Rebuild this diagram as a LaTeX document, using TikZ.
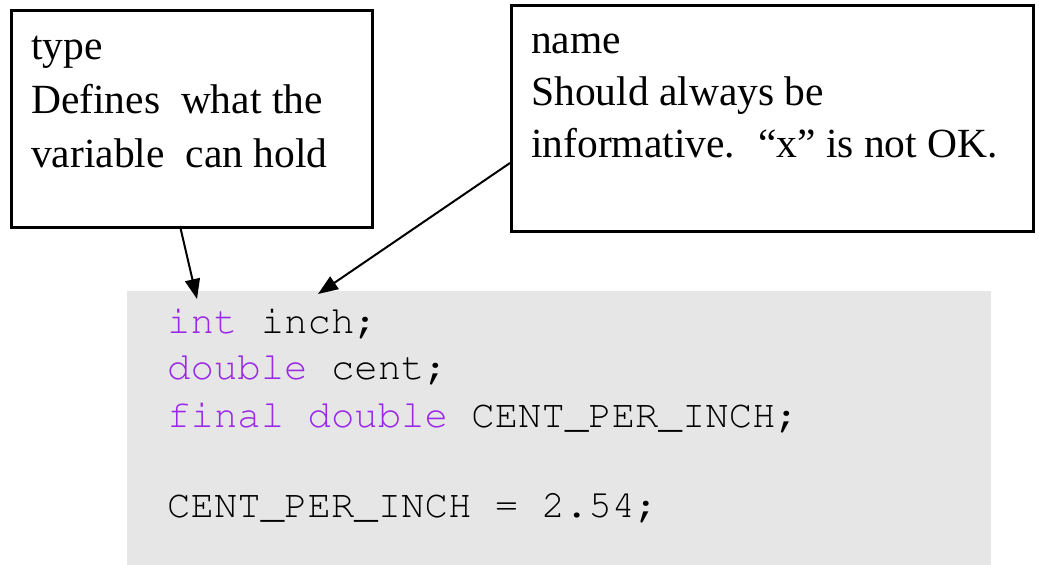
\documentclass[tikz,border=0pt]{standalone}
\usepackage{fontspec}
\setmainfont{Liberation Serif}
\usetikzlibrary{arrows.meta}
\definecolor{kw}{RGB}{155,40,230}
\definecolor{codebg}{RGB}{230,230,230}
\newcommand{\courierfont}{\fontencoding{T1}\fontfamily{pcr}\selectfont}
\begin{document}
\begin{tikzpicture}[x=1pt,y=-1pt,
  notebox/.style={draw=black,line width=2.8pt,anchor=north west,inner sep=0pt},
  serif/.style={anchor=base west,inner sep=0pt,font=\fontsize{41.5}{54}\selectfont},
  code/.style={anchor=base west,inner sep=0pt,font=\courierfont\fontsize{39}{47}\selectfont},
  pointer/.style={line width=2pt,-{Triangle[length=20pt,width=15pt]}}]
\useasboundingbox (0,0) rectangle (1039,565);
% code background
\node[fill=codebg,anchor=north west,inner sep=0pt,minimum width=864pt,minimum height=274pt] (bg) at (127,291) {};
% note boxes
\node[notebox,minimum width=361pt,minimum height=217pt] (box1) at (10,9) {};
\node[notebox,minimum width=522pt,minimum height=226pt] (box2) at (510,4) {};
% note texts
\node[serif] (t1a) at (31,59) {type};
\node[serif] (t1b) at (31,113) {Defines\ \ what the};
\node[serif] (t1c) at (31,167) {variable\ \ can hold};
\node[serif] (t2a) at (531,53) {name};
\node[serif] (t2b) at (531,105) {Should always be};
\node[serif] (t2c) at (531,157) {informative.\hspace{0.55em}“x” is not OK.};
% code
\node[code] (c1) at (167,333) {\textcolor{kw}{int} inch;};
\node[code] (c2) at (167,379) {\textcolor{kw}{double} cent;};
\node[code] (c3) at (167,427) {\textcolor{kw}{final double} CENT\_PER\_INCH;};
\node[code] (c4) at (167,517) {CENT\_PER\_INCH = 2.54;};
% arrows
\coordinate (a1s) at (180,226);
\coordinate (a1e) at (197,299);
\coordinate (a2s) at (510,163);
\coordinate (a2e) at (318,294);
\draw[pointer] (a1s) -- (a1e);
\draw[pointer] (a2s) -- (a2e);
\end{tikzpicture}
\end{document}
